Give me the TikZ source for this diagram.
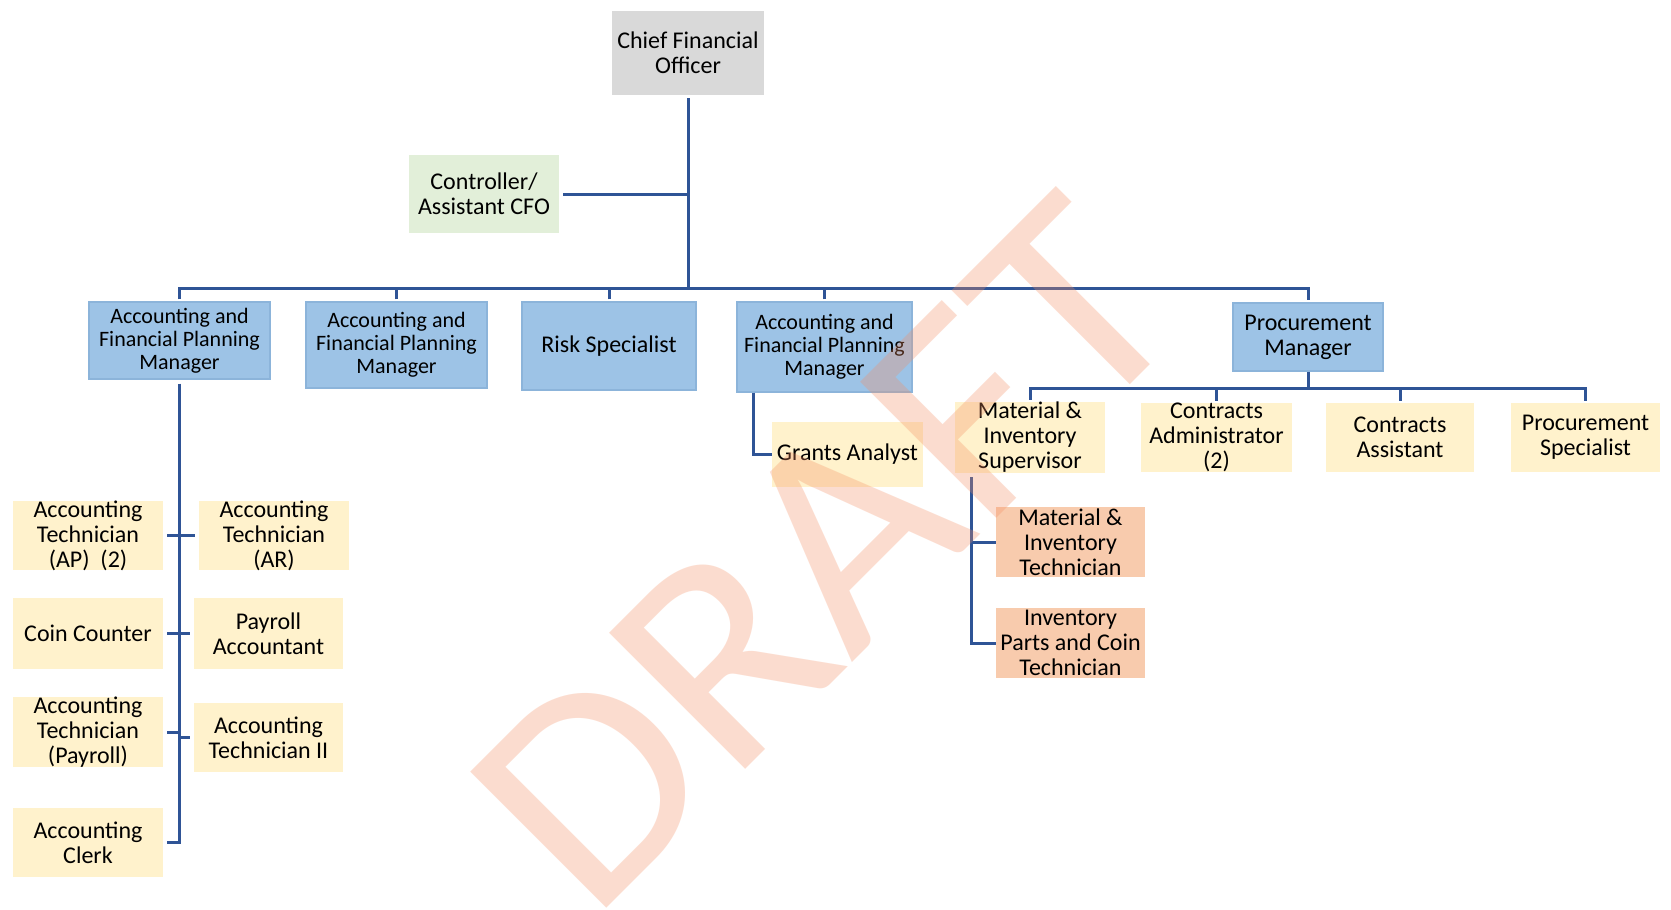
\documentclass[tikz,border=0pt]{standalone}
\usepackage{fontspec}
\setmainfont{Carlito}
\usepackage{graphicx}
\definecolor{gfill}{RGB}{217,217,217}
\definecolor{cfill}{RGB}{226,239,217}
\definecolor{bfill}{RGB}{157,195,230}
\definecolor{bdraw}{RGB}{140,180,218}
\definecolor{yfill}{RGB}{255,242,204}
\definecolor{sfill}{RGB}{248,203,173}
\definecolor{lcol}{RGB}{47,84,150}
\definecolor{wm}{RGB}{245,142,98}
\begin{document}
\begin{tikzpicture}[x=0.5pt,y=-0.5pt,
  sz/.style 2 args={minimum width=#1*0.5pt, minimum height=#2*0.5pt},
  box/.style={rectangle, inner sep=0pt, align=center, text=black, font=\fontsize{12}{12.5}\selectfont},
  gbox/.style={box, fill=gfill},
  cbox/.style={box, fill=cfill},
  bbox/.style={box, fill=bfill, draw=bdraw, line width=0.6pt},
  mfont/.style={font=\fontsize{11}{11.5}\selectfont},
  ybox/.style={box, fill=yfill},
  sbox/.style={box, fill=sfill},
  conn/.style={draw=lcol, line width=1.5pt}]
\useasboundingbox (0,0) rectangle (1671,910);
\fill[white] (0,0) rectangle (1671,910);
\clip (0,0) rectangle (1671,910);

% top
\node[gbox, sz={152}{84}] (cfo) at (688,53) {Chief Financial\\Officer};
\node[cbox, sz={150}{78}] (ctrl) at (484,194) {Controller/\\Assistant CFO};

% managers
\node[bbox, mfont, sz={181}{77}] (m1) at (179.5,340.5) {Accounting and\\Financial Planning\\Manager};
\node[bbox, mfont, sz={181}{86}] (m2) at (396.5,345) {Accounting and\\Financial Planning\\Manager};
\node[bbox, sz={174}{88}] (risk) at (609,346) {Risk Specialist};
\node[bbox, mfont, sz={175}{90}] (m3) at (824.5,347) {Accounting and\\Financial Planning\\Manager};
\node[bbox, sz={150}{68}] (pm) at (1308,337) {Procurement\\Manager};

% procurement staff
\node[ybox, sz={150}{69}] (sup) at (1030,437.5) {Material \&\\Inventory\\Supervisor};
\node[ybox, sz={151}{69}] (cadm) at (1216.5,437.5) {Contracts\\Administrator\\(2)};
\node[ybox, sz={148}{69}] (cass) at (1400,437.5) {Contracts\\Assistant};
\node[ybox, sz={149}{69}] (pspec) at (1585.5,437.5) {Procurement\\Specialist};
\node[ybox, sz={151}{65}] (grants) at (847.5,454.5) {Grants Analyst};
\node[sbox, sz={149}{70}] (mtech) at (1070.5,542) {Material \&\\Inventory\\Technician};
\node[sbox, sz={149}{70}] (ipct) at (1070.5,643) {Inventory\\Parts and Coin\\Technician};

% accounting staff
\node[ybox, sz={150}{67}] (ap) at (88,535.5) {Accounting\\Technician\\(AP)\ \ (2)};
\node[ybox, sz={150}{67}] (ar) at (274,535.5) {Accounting\\Technician\\(AR)};
\node[ybox, sz={150}{71}] (coin) at (88,633.5) {Coin Counter};
\node[ybox, sz={149}{71}] (pacc) at (268.5,633.5) {Payroll\\Accountant};
\node[ybox, sz={150}{68}] (atp) at (88,732) {Accounting\\Technician\\(Payroll)};
\node[ybox, sz={149}{69}] (at2) at (268.5,737.5) {Accounting\\Technician II};
\node[ybox, sz={150}{69}] (clerk) at (88,842.5) {Accounting\\Clerk};

% connectors
\coordinate (bus) at (688,288);
\draw[conn] ([yshift=-1.5pt]cfo.south) -- (bus);
\draw[conn] ([xshift=2pt]ctrl.east) -- (ctrl.east -| bus);
\draw[conn] ([yshift=1pt]m1.north) |- (bus) -| ([yshift=1pt]pm.north);
\draw[conn] ([yshift=1pt]m2.north) -- (m2.north |- bus);
\draw[conn] ([yshift=1pt]risk.north) -- (risk.north |- bus);
\draw[conn] ([yshift=1pt]m3.north) -- (m3.north |- bus);

\coordinate (pbus) at (1308,388);
\draw[conn] (pm.south) -- (pbus);
\draw[conn] ([yshift=1pt]sup.north) |- (pbus) -| ([yshift=1pt]pspec.north);
\draw[conn] ([yshift=1pt]cadm.north) -- (cadm.north |- pbus);
\draw[conn] ([yshift=1pt]cass.north) -- (cass.north |- pbus);

\coordinate (gx) at ([xshift=8.5pt]m3.south west);
\draw[conn] (gx) |- (grants.west);
\coordinate (sx) at ([xshift=8.5pt,yshift=-2pt]sup.south west);
\draw[conn] (sx) |- (ipct.west);
\draw[conn] (mtech.west) -- (mtech.west -| sx);

\coordinate (lx) at ([yshift=-2pt]m1.south);
\draw[conn] (lx) |- ([xshift=2pt]clerk.east);
\draw[conn] ([xshift=2pt]ap.east) -- ([xshift=-2pt]ar.west);
\draw[conn] ([xshift=2pt]coin.east) -- ([xshift=-2pt]pacc.west);
\draw[conn] ([xshift=2pt]atp.east) -- (atp.east -| lx);
\draw[conn] ([xshift=-2pt]at2.west) -- (at2.west -| lx);

% watermark
\node[rotate=45, anchor=base west, inner sep=0pt, text=wm, opacity=0.3,
      font=\fontsize{150}{150}\selectfont] (draft) at (591,924) {\scalebox{1.06}[1]{DRAFT}};
\end{tikzpicture}
\end{document}
